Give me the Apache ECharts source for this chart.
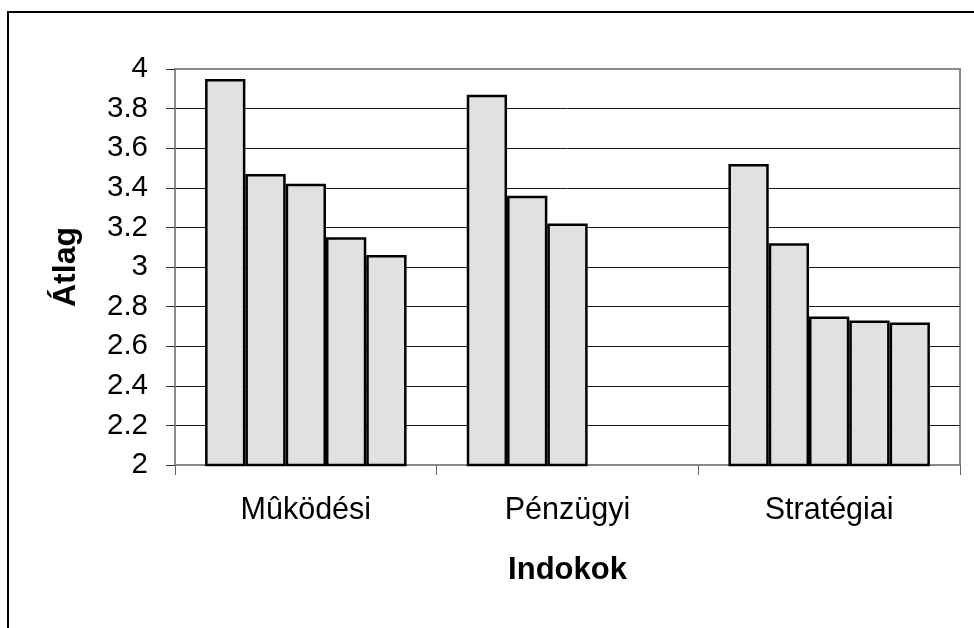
<!DOCTYPE html>
<html>
<head>
<meta charset="utf-8">
<title>Átlag – Indokok</title>
<script src="https://cdn.jsdelivr.net/npm/echarts@6/dist/echarts.min.js"></script>
<style>
  html, body { margin: 0; padding: 0; background: #fff; }
  #chart { width: 974px; height: 628px; }
</style>
</head>
<body>
<div id="chart"></div>
<script>
// Groups on the x axis
const categories = ['Mûködési', 'Pénzügyi', 'Stratégiai'];

// Five bars per group, ranked from highest to lowest average (null = no bar)
const rank1 = [3.95, 3.87, 3.52];
const rank2 = [3.47, 3.36, 3.12];
const rank3 = [3.42, 3.22, 2.75];
const rank4 = [3.15, null, 2.73];
const rank5 = [3.06, null, 2.72];

// Value axis range and tick step
const yMin = 2;
const yMax = 4;
const yStep = 0.2;

const FONT = "'Liberation Sans', Arial, Helvetica, sans-serif";

const chart = echarts.init(document.getElementById('chart'));

function barSeries(data) {
  return {
    type: 'bar',
    data: data,
    barGap: '0%',
    barCategoryGap: '23%',
    itemStyle: { color: '#e1e1e1', borderColor: '#000', borderWidth: 2.5 },
    emphasis: { disabled: true },
    animation: false
  };
}

chart.setOption({
  animation: false,
  backgroundColor: '#fff',
  grid: {
    left: 175, right: 14, top: 69, bottom: 163,
    show: true,
    borderColor: '#8a8a8a',
    borderWidth: 2,
    containLabel: false
  },
  xAxis: {
    type: 'category',
    data: categories,
    boundaryGap: true,
    name: 'Indokok',
    nameLocation: 'middle',
    nameGap: 90,
    nameTextStyle: { fontFamily: FONT, fontSize: 31, fontWeight: 'bold', color: '#000' },
    axisLine: { lineStyle: { color: '#8a8a8a', width: 2 } },
    axisTick: { show: true, length: 10, alignWithLabel: false, lineStyle: { color: '#666', width: 1 } },
    axisLabel: { fontFamily: FONT, fontSize: 30.5, color: '#000', margin: 30 },
    splitLine: { show: false }
  },
  yAxis: {
    type: 'value',
    min: yMin,
    max: yMax,
    interval: yStep,
    name: 'Átlag',
    nameLocation: 'middle',
    nameGap: 93,
    nameRotate: 90,
    nameTextStyle: { fontFamily: FONT, fontSize: 32, fontWeight: 'bold', color: '#000' },
    axisLine: { show: true, lineStyle: { color: '#8a8a8a', width: 2 } },
    axisTick: { show: true, length: 9, lineStyle: { color: '#333', width: 1 } },
    axisLabel: {
      fontFamily: FONT, fontSize: 29.5, color: '#000', margin: 27,
      formatter: v => String(parseFloat(v.toFixed(1)))
    },
    splitLine: {
      show: true,
      showMinLine: false,
      showMaxLine: false,
      lineStyle: { color: '#1a1a1a', width: 1 }
    }
  },
  series: [rank1, rank2, rank3, rank4, rank5].map(barSeries),
  graphic: [
    // frame around the chart area (left and top edges)
    { type: 'line', silent: true, z: 100,
      shape: { x1: 8, y1: 12, x2: 8, y2: 628 },
      style: { stroke: '#000', lineWidth: 2 } },
    { type: 'line', silent: true, z: 100,
      shape: { x1: 7, y1: 12, x2: 974, y2: 12 },
      style: { stroke: '#000', lineWidth: 2 } }
  ]
});
</script>
</body>
</html>
